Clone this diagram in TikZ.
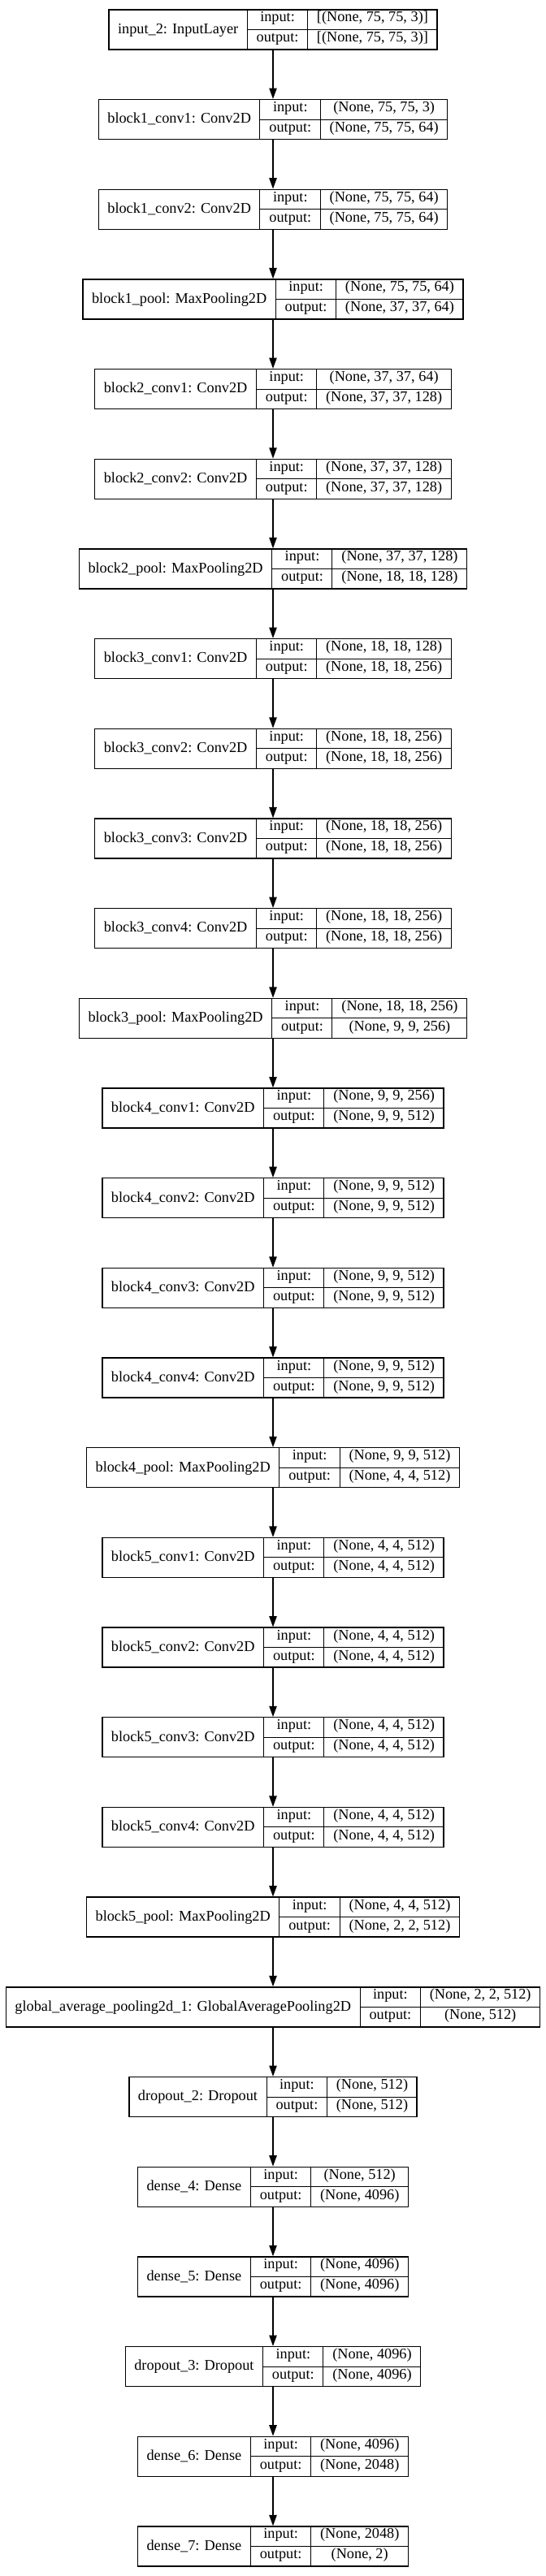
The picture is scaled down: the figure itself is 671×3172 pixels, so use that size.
\documentclass[tikz,border=0pt]{standalone}
\usepackage{fontspec}
\setmainfont{Liberation Serif}
\usetikzlibrary{arrows.meta}

\newcommand{\layerfont}{\fontsize{13.7pt}{16pt}\selectfont}
\newcommand{\rowstrut}{\rule[-6.8pt]{0pt}{15.8pt}}
\newcommand{\layertable}[3]{%
  \setlength{\arrayrulewidth}{0.75pt}%
  \begin{tabular}{@{\hspace{8.25pt}}c@{\hspace{8.25pt}}|@{}c@{}}
    #1 &
    \begin{tabular}{@{\hspace{8.25pt}}c@{\hspace{8.25pt}}|@{\hspace{8.25pt}}c@{\hspace{8.25pt}}}
      \rowstrut input: & #2\\ \hline
      \rowstrut output: & #3
    \end{tabular}
  \end{tabular}}

\begin{document}
\begin{tikzpicture}[x=0.75pt,y=-0.75pt,
    layer/.style={draw, line width=1pt, inner sep=0pt, font=\layerfont},
    flow/.style={->, line width=1pt},
    >={Triangle[length=10pt,width=7pt]}]
   \path[use as bounding box, fill=white] (0,0) rectangle (671,3172);
   \node[layer] (in2) at (336,36.35) {\layertable{input\_2: InputLayer}{[(None, 75, 75, 3)]}{[(None, 75, 75, 3)]}};
   \node[layer] (b1c1) at (336,147.03) {\layertable{block1\_conv1: Conv2D}{(None, 75, 75, 3)}{(None, 75, 75, 64)}};
   \node[layer] (b1c2) at (336,257.71) {\layertable{block1\_conv2: Conv2D}{(None, 75, 75, 64)}{(None, 75, 75, 64)}};
   \node[layer] (b1p) at (336,368.39) {\layertable{block1\_pool: MaxPooling2D}{(None, 75, 75, 64)}{(None, 37, 37, 64)}};
   \node[layer] (b2c1) at (336,479.07) {\layertable{block2\_conv1: Conv2D}{(None, 37, 37, 64)}{(None, 37, 37, 128)}};
   \node[layer] (b2c2) at (336,589.75) {\layertable{block2\_conv2: Conv2D}{(None, 37, 37, 128)}{(None, 37, 37, 128)}};
   \node[layer] (b2p) at (336,700.43) {\layertable{block2\_pool: MaxPooling2D}{(None, 37, 37, 128)}{(None, 18, 18, 128)}};
   \node[layer] (b3c1) at (336,811.11) {\layertable{block3\_conv1: Conv2D}{(None, 18, 18, 128)}{(None, 18, 18, 256)}};
   \node[layer] (b3c2) at (336,921.79) {\layertable{block3\_conv2: Conv2D}{(None, 18, 18, 256)}{(None, 18, 18, 256)}};
   \node[layer] (b3c3) at (336,1032.47) {\layertable{block3\_conv3: Conv2D}{(None, 18, 18, 256)}{(None, 18, 18, 256)}};
   \node[layer] (b3c4) at (336,1143.15) {\layertable{block3\_conv4: Conv2D}{(None, 18, 18, 256)}{(None, 18, 18, 256)}};
   \node[layer] (b3p) at (336,1253.83) {\layertable{block3\_pool: MaxPooling2D}{(None, 18, 18, 256)}{(None, 9, 9, 256)}};
   \node[layer] (b4c1) at (336,1364.51) {\layertable{block4\_conv1: Conv2D}{(None, 9, 9, 256)}{(None, 9, 9, 512)}};
   \node[layer] (b4c2) at (336,1475.19) {\layertable{block4\_conv2: Conv2D}{(None, 9, 9, 512)}{(None, 9, 9, 512)}};
   \node[layer] (b4c3) at (336,1585.87) {\layertable{block4\_conv3: Conv2D}{(None, 9, 9, 512)}{(None, 9, 9, 512)}};
   \node[layer] (b4c4) at (336,1696.55) {\layertable{block4\_conv4: Conv2D}{(None, 9, 9, 512)}{(None, 9, 9, 512)}};
   \node[layer] (b4p) at (336,1807.23) {\layertable{block4\_pool: MaxPooling2D}{(None, 9, 9, 512)}{(None, 4, 4, 512)}};
   \node[layer] (b5c1) at (336,1917.91) {\layertable{block5\_conv1: Conv2D}{(None, 4, 4, 512)}{(None, 4, 4, 512)}};
   \node[layer] (b5c2) at (336,2028.59) {\layertable{block5\_conv2: Conv2D}{(None, 4, 4, 512)}{(None, 4, 4, 512)}};
   \node[layer] (b5c3) at (336,2139.27) {\layertable{block5\_conv3: Conv2D}{(None, 4, 4, 512)}{(None, 4, 4, 512)}};
   \node[layer] (b5c4) at (336,2249.95) {\layertable{block5\_conv4: Conv2D}{(None, 4, 4, 512)}{(None, 4, 4, 512)}};
   \node[layer] (b5p) at (336,2360.63) {\layertable{block5\_pool: MaxPooling2D}{(None, 4, 4, 512)}{(None, 2, 2, 512)}};
   \node[layer] (gap) at (336,2471.31) {\layertable{global\_average\_pooling2d\_1: GlobalAveragePooling2D}{(None, 2, 2, 512)}{(None, 512)}};
   \node[layer] (drop2) at (336,2581.99) {\layertable{dropout\_2: Dropout}{(None, 512)}{(None, 512)}};
   \node[layer] (den4) at (336,2692.67) {\layertable{dense\_4: Dense}{(None, 512)}{(None, 4096)}};
   \node[layer] (den5) at (336,2803.35) {\layertable{dense\_5: Dense}{(None, 4096)}{(None, 4096)}};
   \node[layer] (drop3) at (336,2914.03) {\layertable{dropout\_3: Dropout}{(None, 4096)}{(None, 4096)}};
   \node[layer] (den6) at (336,3024.71) {\layertable{dense\_6: Dense}{(None, 4096)}{(None, 2048)}};
   \node[layer] (den7) at (336,3135.39) {\layertable{dense\_7: Dense}{(None, 2048)}{(None, 2)}};
   \path%
     (in2) edge [flow] (b1c1) %input_2 to block1_conv1
     (b1c1) edge [flow] (b1c2) %block1_conv1 to block1_conv2
     (b1c2) edge [flow] (b1p) %block1_conv2 to block1_pool
     (b1p) edge [flow] (b2c1) %block1_pool to block2_conv1
     (b2c1) edge [flow] (b2c2) %block2_conv1 to block2_conv2
     (b2c2) edge [flow] (b2p) %block2_conv2 to block2_pool
     (b2p) edge [flow] (b3c1) %block2_pool to block3_conv1
     (b3c1) edge [flow] (b3c2) %block3_conv1 to block3_conv2
     (b3c2) edge [flow] (b3c3) %block3_conv2 to block3_conv3
     (b3c3) edge [flow] (b3c4) %block3_conv3 to block3_conv4
     (b3c4) edge [flow] (b3p) %block3_conv4 to block3_pool
     (b3p) edge [flow] (b4c1) %block3_pool to block4_conv1
     (b4c1) edge [flow] (b4c2) %block4_conv1 to block4_conv2
     (b4c2) edge [flow] (b4c3) %block4_conv2 to block4_conv3
     (b4c3) edge [flow] (b4c4) %block4_conv3 to block4_conv4
     (b4c4) edge [flow] (b4p) %block4_conv4 to block4_pool
     (b4p) edge [flow] (b5c1) %block4_pool to block5_conv1
     (b5c1) edge [flow] (b5c2) %block5_conv1 to block5_conv2
     (b5c2) edge [flow] (b5c3) %block5_conv2 to block5_conv3
     (b5c3) edge [flow] (b5c4) %block5_conv3 to block5_conv4
     (b5c4) edge [flow] (b5p) %block5_conv4 to block5_pool
     (b5p) edge [flow] (gap) %block5_pool to global pooling
     (gap) edge [flow] (drop2) %global pooling to dropout_2
     (drop2) edge [flow] (den4) %dropout_2 to dense_4
     (den4) edge [flow] (den5) %dense_4 to dense_5
     (den5) edge [flow] (drop3) %dense_5 to dropout_3
     (drop3) edge [flow] (den6) %dropout_3 to dense_6
     (den6) edge [flow] (den7); %dense_6 to dense_7
\end{tikzpicture}
\end{document}
